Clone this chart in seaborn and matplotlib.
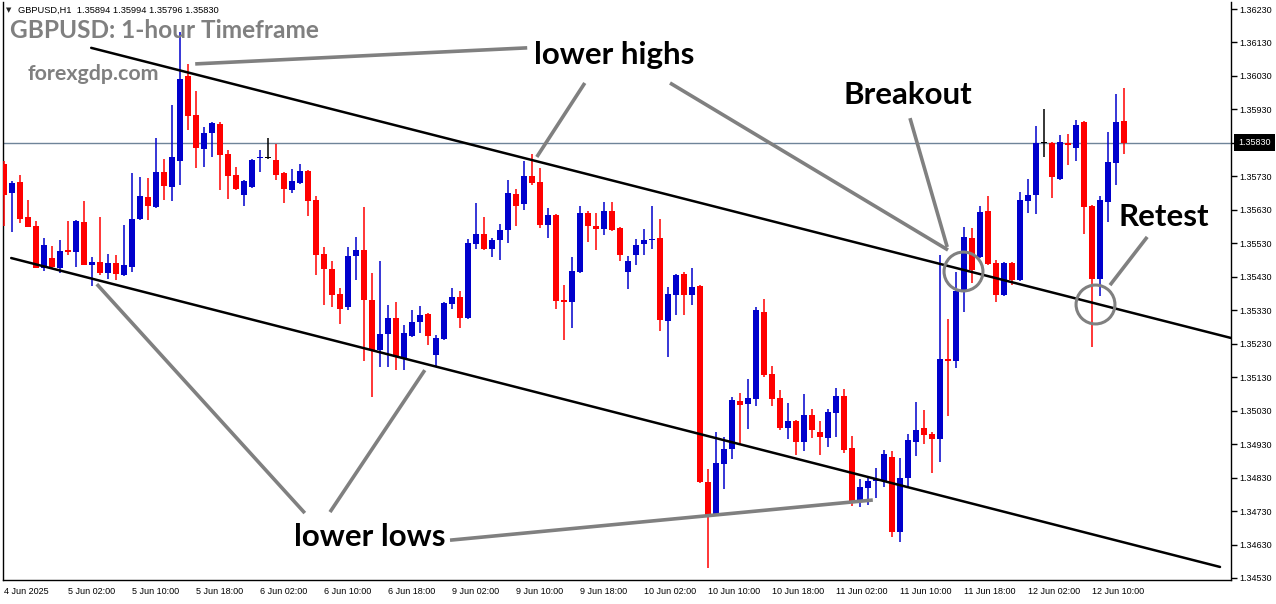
import matplotlib
matplotlib.use("Agg")
import matplotlib.pyplot as plt
import matplotlib.transforms as mtransforms
import numpy as np
import pandas as pd
import seaborn as sns

# GBPUSD H1 candles (index 0 = 4 Jun 18:00)
opens = [
    1.35767, 1.35680, 1.35713, 1.35609, 1.35582, 1.35456, 1.35486, 1.35456, 1.35510, 1.35504,
    1.35594, 1.35465, 1.35474, 1.35441, 1.35471, 1.35435, 1.35459, 1.35603, 1.35668, 1.35638,
    1.35743, 1.35698, 1.35776, 1.36030, 1.35913, 1.35812, 1.35860, 1.35886, 1.35797, 1.35734,
    1.35674, 1.35698, 1.35785, 1.35785, 1.35779, 1.35740, 1.35689, 1.35710, 1.35746, 1.35659,
    1.35498, 1.35453, 1.35379, 1.35340, 1.35492, 1.35510, 1.35361, 1.35211, 1.35259, 1.35307,
    1.35184, 1.35253, 1.35295, 1.35319, 1.35196, 1.35244, 1.35349, 1.35370, 1.35307, 1.35528,
    1.35558, 1.35513, 1.35540, 1.35570, 1.35677, 1.35647, 1.35731, 1.35713, 1.35585, 1.35615,
    1.35361, 1.35355, 1.35444, 1.35621, 1.35582, 1.35573, 1.35627, 1.35576, 1.35444, 1.35495,
    1.35528, 1.35540, 1.35546, 1.35298, 1.35376, 1.35438, 1.35376, 1.35402, 1.34817, 1.34721,
    1.34871, 1.34915, 1.35059, 1.35050, 1.35065, 1.35325, 1.35139, 1.35068, 1.34978, 1.34999,
    1.34936, 1.35017, 1.34966, 1.34948, 1.35023, 1.35074, 1.34918, 1.34760, 1.34799, 1.34820,
    1.34820, 1.34891, 1.34667, 1.34829, 1.34936, 1.34978, 1.34960, 1.34945, 1.35184, 1.35178,
    1.35385, 1.35546, 1.35489, 1.35627, 1.35471, 1.35376, 1.35471, 1.35420, 1.35656, 1.35674,
    1.35830, 1.35830, 1.35722, 1.35830, 1.35815, 1.35892, 1.35641, 1.35423, 1.35653, 1.35770,
    1.35894,
]
highs = [
    1.35776, 1.35716, 1.35734, 1.35659, 1.35597, 1.35546, 1.35522, 1.35540, 1.35597, 1.35600,
    1.35656, 1.35489, 1.35609, 1.35498, 1.35495, 1.35585, 1.35740, 1.35728, 1.35725, 1.35845,
    1.35782, 1.35943, 1.36161, 1.36066, 1.35985, 1.35878, 1.35892, 1.35892, 1.35809, 1.35758,
    1.35719, 1.35782, 1.35809, 1.35845, 1.35827, 1.35743, 1.35752, 1.35767, 1.35749, 1.35671,
    1.35519, 1.35477, 1.35396, 1.35519, 1.35549, 1.35638, 1.35441, 1.35477, 1.35346, 1.35355,
    1.35286, 1.35331, 1.35343, 1.35322, 1.35256, 1.35355, 1.35396, 1.35387, 1.35543, 1.35650,
    1.35609, 1.35546, 1.35588, 1.35719, 1.35692, 1.35776, 1.35797, 1.35755, 1.35635, 1.35618,
    1.35405, 1.35489, 1.35641, 1.35627, 1.35621, 1.35653, 1.35653, 1.35579, 1.35492, 1.35543,
    1.35573, 1.35641, 1.35603, 1.35399, 1.35438, 1.35444, 1.35456, 1.35405, 1.34856, 1.34966,
    1.34951, 1.35071, 1.35083, 1.35125, 1.35340, 1.35364, 1.35163, 1.35092, 1.35053, 1.35002,
    1.35080, 1.35035, 1.34999, 1.35035, 1.35098, 1.35095, 1.34954, 1.34826, 1.34835, 1.34859,
    1.34912, 1.34909, 1.34888, 1.34960, 1.35056, 1.35032, 1.34966, 1.35495, 1.35304, 1.35444,
    1.35579, 1.35576, 1.35641, 1.35671, 1.35480, 1.35474, 1.35474, 1.35683, 1.35722, 1.35881,
    1.35931, 1.35833, 1.35854, 1.35857, 1.35898, 1.35895, 1.35644, 1.35671, 1.35863, 1.35976,
    1.35994,
]
lows = [
    1.35582, 1.35564, 1.35591, 1.35579, 1.35456, 1.35447, 1.35456, 1.35441, 1.35495, 1.35459,
    1.35465, 1.35402, 1.35435, 1.35423, 1.35420, 1.35432, 1.35444, 1.35600, 1.35600, 1.35635,
    1.35659, 1.35656, 1.35704, 1.35869, 1.35755, 1.35758, 1.35788, 1.35689, 1.35662, 1.35689,
    1.35641, 1.35695, 1.35743, 1.35782, 1.35719, 1.35650, 1.35680, 1.35707, 1.35612, 1.35435,
    1.35346, 1.35340, 1.35289, 1.35331, 1.35420, 1.35178, 1.35071, 1.35160, 1.35160, 1.35151,
    1.35151, 1.35250, 1.35262, 1.35226, 1.35160, 1.35241, 1.35334, 1.35277, 1.35304, 1.35513,
    1.35510, 1.35489, 1.35480, 1.35531, 1.35582, 1.35630, 1.35704, 1.35576, 1.35546, 1.35334,
    1.35241, 1.35277, 1.35441, 1.35534, 1.35510, 1.35555, 1.35567, 1.35477, 1.35393, 1.35465,
    1.35495, 1.35513, 1.35268, 1.35190, 1.35316, 1.35316, 1.35346, 1.34814, 1.34560, 1.34718,
    1.34796, 1.34886, 1.34930, 1.34975, 1.35044, 1.35131, 1.35044, 1.34972, 1.34945, 1.34897,
    1.34909, 1.34948, 1.34897, 1.34921, 1.34951, 1.34903, 1.34745, 1.34742, 1.34748, 1.34769,
    1.34802, 1.34652, 1.34638, 1.34802, 1.34894, 1.34930, 1.34844, 1.34877, 1.35014, 1.35157,
    1.35325, 1.35411, 1.35486, 1.35465, 1.35355, 1.35373, 1.35405, 1.35417, 1.35621, 1.35618,
    1.35788, 1.35665, 1.35719, 1.35764, 1.35776, 1.35558, 1.35220, 1.35373, 1.35594, 1.35704,
    1.35796,
]
closes = [
    1.35674, 1.35710, 1.35603, 1.35579, 1.35456, 1.35525, 1.35459, 1.35507, 1.35504, 1.35597,
    1.35465, 1.35474, 1.35441, 1.35471, 1.35438, 1.35465, 1.35603, 1.35671, 1.35641, 1.35743,
    1.35701, 1.35788, 1.36021, 1.35910, 1.35815, 1.35860, 1.35889, 1.35794, 1.35731, 1.35692,
    1.35716, 1.35779, 1.35788, 1.35785, 1.35734, 1.35692, 1.35716, 1.35746, 1.35656, 1.35495,
    1.35453, 1.35376, 1.35334, 1.35492, 1.35510, 1.35361, 1.35211, 1.35259, 1.35307, 1.35190,
    1.35262, 1.35295, 1.35316, 1.35253, 1.35247, 1.35352, 1.35370, 1.35307, 1.35531, 1.35558,
    1.35513, 1.35540, 1.35570, 1.35680, 1.35641, 1.35731, 1.35710, 1.35585, 1.35615, 1.35358,
    1.35355, 1.35447, 1.35621, 1.35582, 1.35573, 1.35627, 1.35570, 1.35495, 1.35477, 1.35525,
    1.35540, 1.35543, 1.35301, 1.35379, 1.35435, 1.35376, 1.35399, 1.34817, 1.34718, 1.34874,
    1.34915, 1.35062, 1.35047, 1.35068, 1.35331, 1.35137, 1.35065, 1.34978, 1.34999, 1.34936,
    1.35017, 1.34972, 1.34951, 1.35026, 1.35074, 1.34912, 1.34760, 1.34802, 1.34820, 1.34826,
    1.34900, 1.34667, 1.34829, 1.34942, 1.34972, 1.34957, 1.34945, 1.35184, 1.35178, 1.35387,
    1.35549, 1.35450, 1.35624, 1.35468, 1.35376, 1.35471, 1.35420, 1.35659, 1.35674, 1.35830,
    1.35830, 1.35728, 1.35833, 1.35824, 1.35884, 1.35638, 1.35423, 1.35659, 1.35773, 1.35892,
    1.35830,
]

time_labels = ['4 Jun 2025', '5 Jun 02:00', '5 Jun 10:00', '5 Jun 18:00', '6 Jun 02:00',
               '6 Jun 10:00', '6 Jun 18:00', '9 Jun 02:00', '9 Jun 10:00', '9 Jun 18:00',
               '10 Jun 02:00', '10 Jun 10:00', '10 Jun 18:00', '11 Jun 02:00', '11 Jun 10:00',
               '11 Jun 18:00', '12 Jun 02:00', '12 Jun 10:00']
price_ticks = [1.34530, 1.34630, 1.34730, 1.34830, 1.34930, 1.35030, 1.35130, 1.35230, 1.35330,
               1.35430, 1.35530, 1.35630, 1.35730, 1.35830, 1.35930, 1.36030, 1.36130, 1.36230]
bid_price = 1.35830

# trendline anchors (bar index, price)
upper_channel = [(10.9, 1.36114), (153.4, 1.35247)]
lower_channel = [(0.9, 1.35486), (152.0, 1.34563)]

pointer_lines = [
    [(23.9, 1.36066), (65.4, 1.36114)],
    [(72.6, 1.36009), (66.6, 1.35788)],
    [(83.25, 1.36009), (118.0, 1.35510)],
    [(113.25, 1.35904), (117.9, 1.35519)],
    [(142.9, 1.35549), (138.25, 1.35405)],
    [(55.75, 1.34643), (108.6, 1.34763)],
    [(37.6, 1.34724), (11.6, 1.35408)],
    [(40.75, 1.34727), (52.6, 1.35151)],
]
circles = [(119.9, 1.35447), (136.4, 1.35349)]
notes = [('lower highs', 76.25, 1.36093), ('Breakout', 113.0, 1.35973),
         ('Retest', 145.0, 1.35609), ('lower lows', 45.75, 1.34652)]

df = pd.DataFrame({'open': opens, 'high': highs, 'low': lows, 'close': closes})
df['idx'] = np.arange(len(df))
df['color'] = np.where(df['close'] > df['open'], '#0000CC',
                       np.where(df['close'] < df['open'], '#FF0000', '#000000'))

sns.set_theme(style='white')
plt.rcParams['font.family'] = ['Liberation Sans', 'DejaVu Sans']

W, H = 1276, 604
fig = plt.figure(figsize=(W / 100, H / 100), dpi=100)
ax = fig.add_axes([3 / W, 1 - 580 / H, 1228 / W, 578 / H])
ax.set_facecolor('white')

# wicks + bodies
ax.vlines(df['idx'], df['low'], df['high'], colors=df['color'], linewidth=1.1, zorder=3)
body_lo = np.minimum(df['open'], df['close'])
body_h = np.maximum((df['close'] - df['open']).abs(), 0.00003)
ax.bar(df['idx'], body_h, bottom=body_lo, width=0.7, color=df['color'], linewidth=0, zorder=4)

# bid line
ax.axhline(bid_price, color='#6f8499', linewidth=1, zorder=1)

# channel lines
for line in (upper_channel, lower_channel):
    seg = pd.DataFrame(line, columns=['x', 'y'])
    sns.lineplot(data=seg, x='x', y='y', color='black', linewidth=1.8, ax=ax, zorder=5)

for seg in pointer_lines:
    xs, ys = zip(*seg)
    ax.plot(xs, ys, color='#808080', linewidth=2.6, solid_capstyle='butt', zorder=6)
for cx, cy in circles:
    ax.plot([cx], [cy], marker='o', markersize=28, markerfacecolor='none',
            markeredgecolor='#808080', markeredgewidth=2.2, zorder=6)

for txt, tx, ty in notes:
    ax.text(tx, ty, txt, ha='center', va='center', fontsize=22.5, fontweight='bold',
            family=['Lato', 'DejaVu Sans'], color='black', zorder=7)

ax.set_xlim(-0.125, 153.375)
ax.set_ylim(1.34524, 1.36251)
ax.set_xlabel('')
ax.set_ylabel('')

ax.set_xticks(np.arange(0, 8 * len(time_labels), 8))
ax.set_xticklabels(time_labels, ha='left', fontsize=6.5)
ax.set_yticks(price_ticks)
ax.set_yticklabels(['' if p == bid_price else f'{p:.5f}' for p in price_ticks], fontsize=6.5)
ax.yaxis.tick_right()
ax.tick_params(axis='both', direction='out', length=4, width=1, color='black',
               labelcolor='black', pad=2)
ax.tick_params(axis='x', pad=1)

for side in ('left', 'bottom', 'right'):
    ax.spines[side].set_visible(True)
    ax.spines[side].set_color('black')
    ax.spines[side].set_linewidth(1)
ax.spines['top'].set_visible(False)

# bid price tag on the price scale
trans = mtransforms.blended_transform_factory(ax.transAxes, ax.transData)
ax.text(1.006, bid_price, '1.35830', transform=trans, ha='left', va='center',
        fontsize=6.5, color='white', zorder=8, clip_on=False,
        bbox=dict(facecolor='black', edgecolor='none', boxstyle='square,pad=0.45'))

# header and watermark
fig.text(6 / W, 1 - 10 / H, '\u25bc', fontsize=5, family=['DejaVu Sans'], va='center')
fig.text(18 / W, 1 - 10 / H, 'GBPUSD,H1  1.35894 1.35994 1.35796 1.35830',
         fontsize=6.7, va='center', color='black')
fig.text(10 / W, 1 - 30 / H, 'GBPUSD: 1-hour Timeframe', fontsize=17.6, fontweight='bold',
         family=['Lato', 'DejaVu Sans'], color='#808080', va='center')
fig.text(28 / W, 1 - 74 / H, 'forexgdp.com', fontsize=15.4, fontweight='bold',
         family=['Lato', 'DejaVu Sans'], color='#808080', va='center')

fig.savefig('out.png', dpi=100)
